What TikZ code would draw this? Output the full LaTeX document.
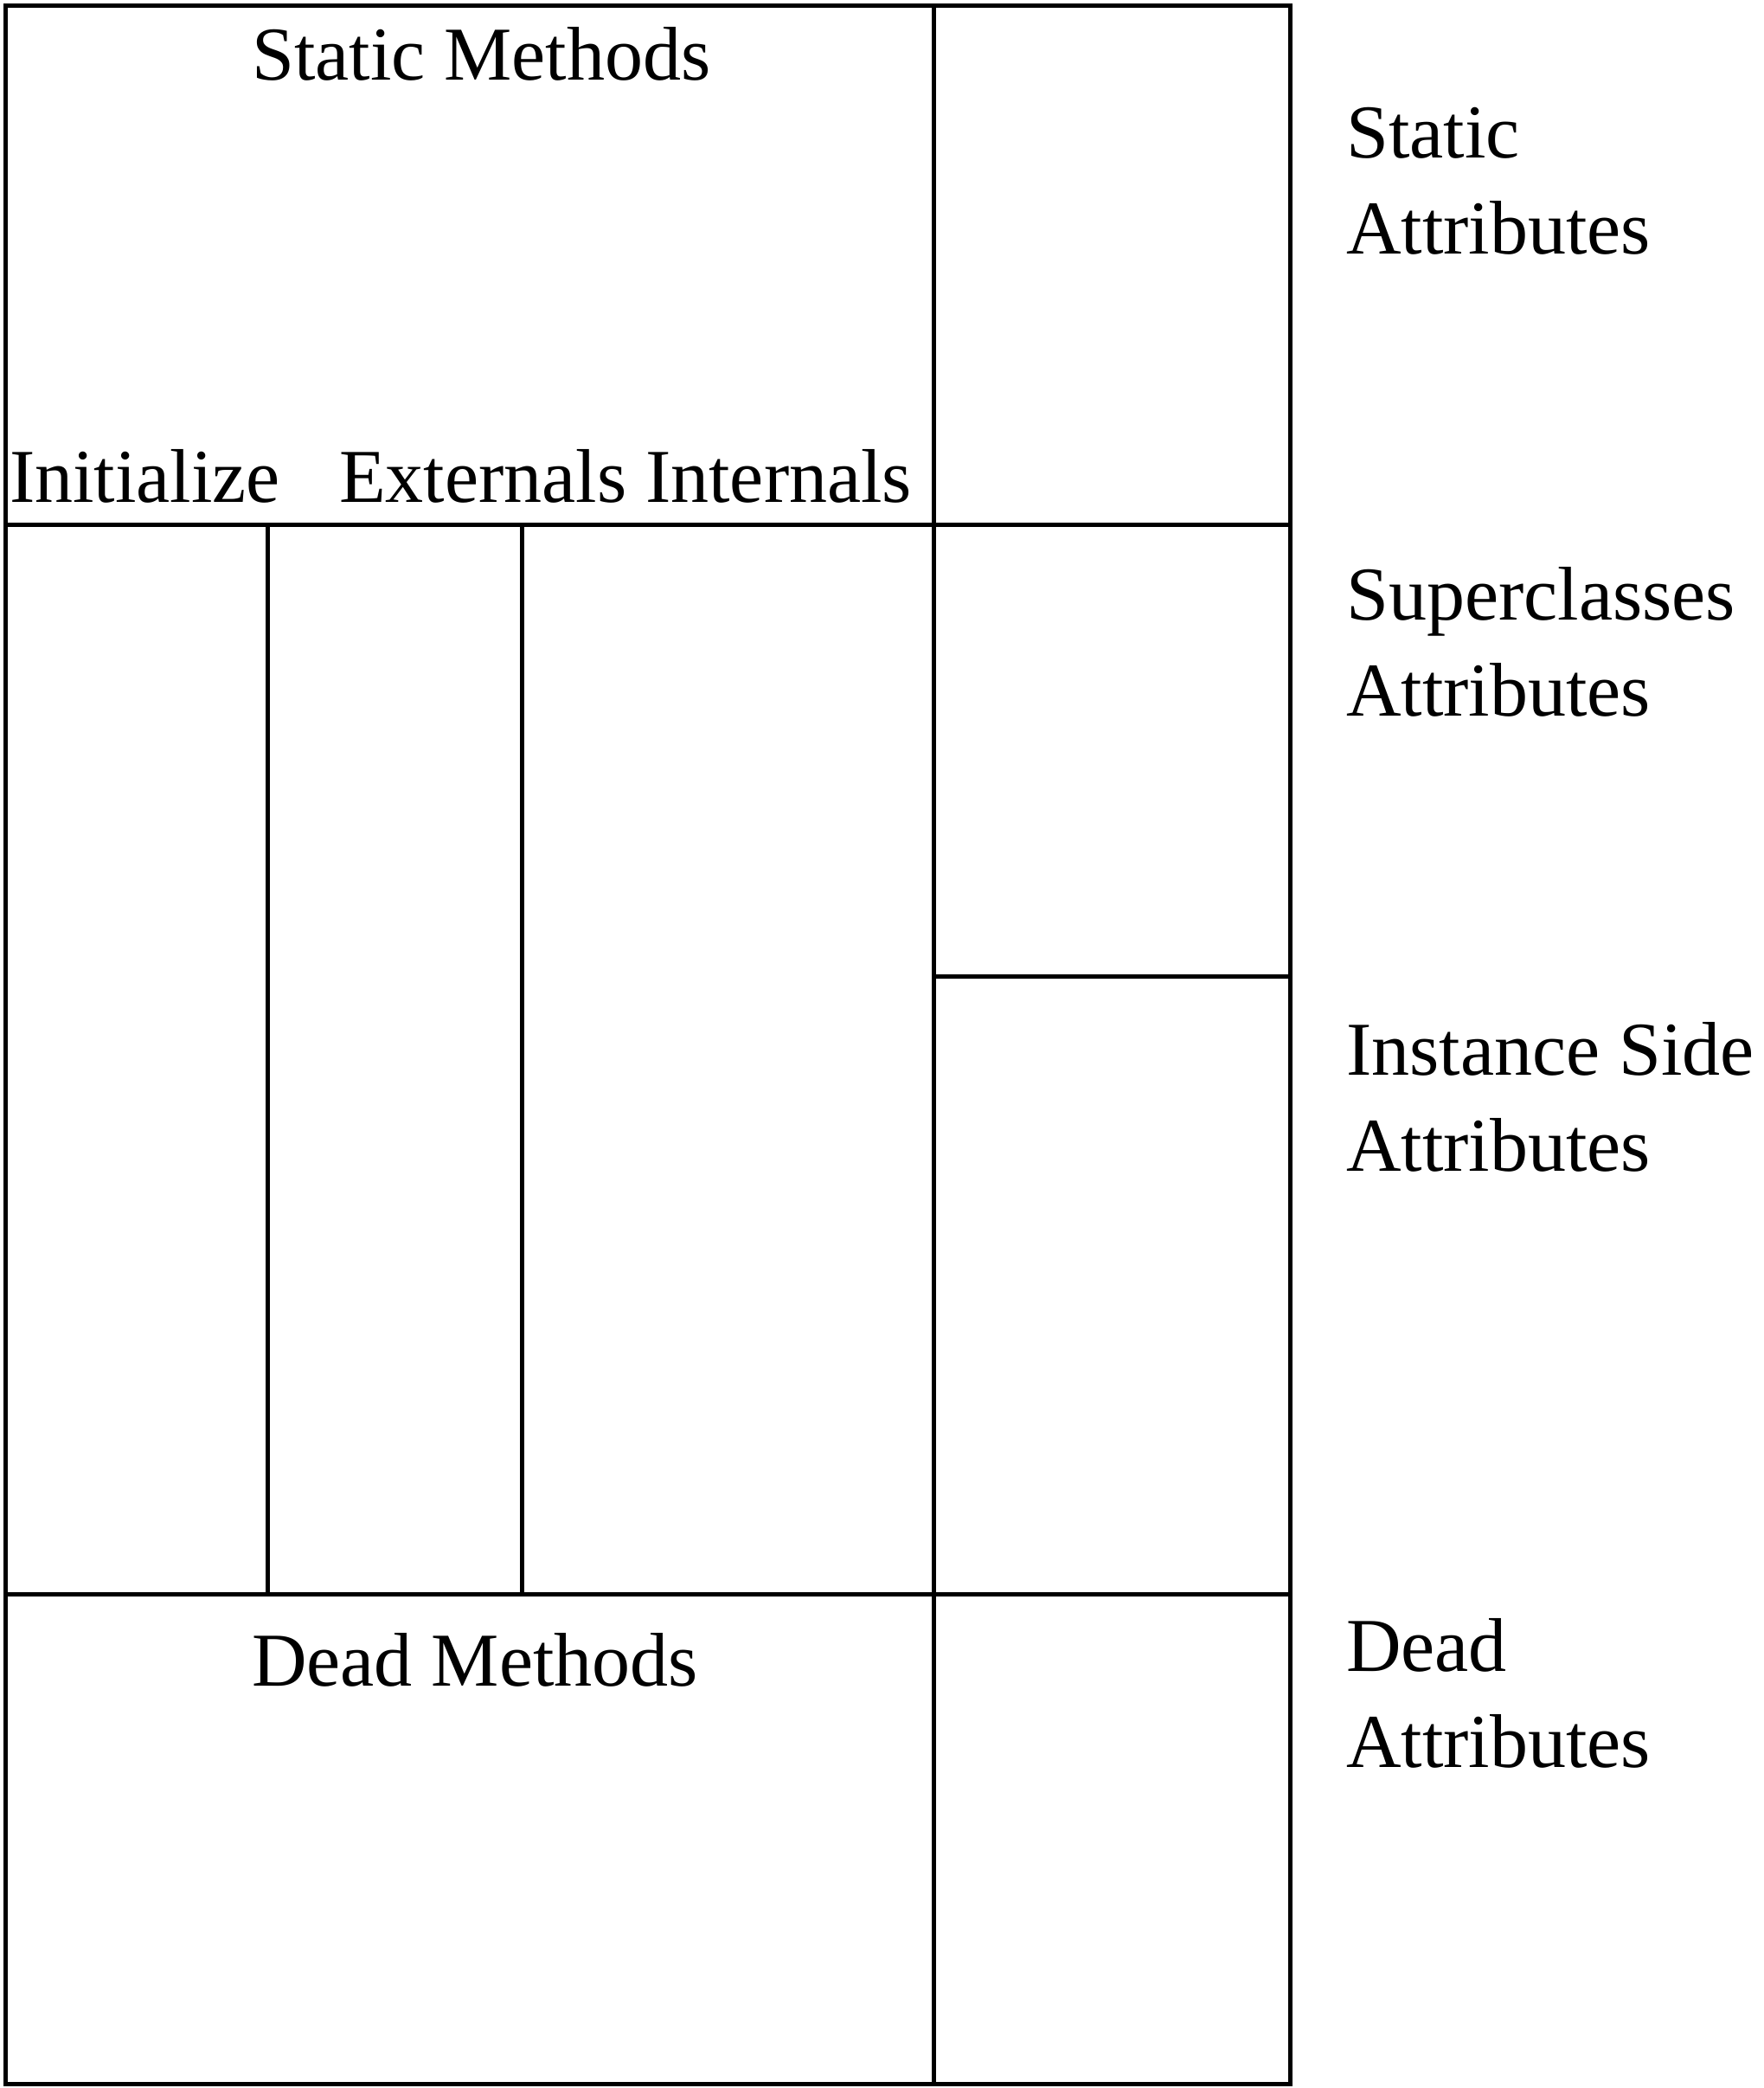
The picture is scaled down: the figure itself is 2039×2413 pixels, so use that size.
\documentclass[tikz,border=0pt]{standalone}
\usepackage{fontspec}
\setmainfont{Liberation Serif}
\begin{document}
\begin{tikzpicture}[x=1pt,y=-1pt,
  cell/.style={draw, line width=5pt, inner sep=0pt, outer sep=0pt, anchor=north west},
  lbl/.style={font=\fontsize{88}{111}\selectfont, inner sep=0pt, anchor=base west, align=left}]
\useasboundingbox[fill=white] (0,0) rectangle (2039,2413);

% method cells (left block)
\node[cell, minimum width=1073pt, minimum height=600pt]  (sm)   at (6,6)     {};
\node[cell, minimum width=303pt,  minimum height=1236pt] (init) at (6,606)   {};
\node[cell, minimum width=294pt,  minimum height=1236pt] (ext)  at (309,606) {};
\node[cell, minimum width=476pt,  minimum height=1236pt] (int)  at (603,606) {};
\node[cell, minimum width=1073pt, minimum height=566pt]  (dm)   at (6,1842)  {};

% attribute cells (right column)
\node[cell, minimum width=412pt, minimum height=600pt] (sa)   at (1079,6)    {};
\node[cell, minimum width=412pt, minimum height=522pt] (supa) at (1079,606)  {};
\node[cell, minimum width=412pt, minimum height=714pt] (insa) at (1079,1128) {};
\node[cell, minimum width=412pt, minimum height=566pt] (da)   at (1079,1842) {};

% method labels
\node[lbl] (tsm)  at (291,92)   {Static Methods};
\node[lbl] (tin)  at (11,580)   {Initialize};
\node[lbl] (tex)  at (392,580)  {Externals};
\node[lbl] (tint) at (746,580)  {Internals};
\node[lbl] (tdm)  at (291,1948) {Dead Methods};

% attribute labels (base anchor sits on the second line)
\node[lbl] (tsa)   at (1556,293)  {Static\\Attributes};
\node[lbl] (tsupa) at (1556,827)  {Superclasses\\Attributes};
\node[lbl] (tinsa) at (1556,1353) {Instance Side\\Attributes};
\node[lbl] (tda)   at (1556,2042) {Dead\\Attributes};
\end{tikzpicture}
\end{document}
